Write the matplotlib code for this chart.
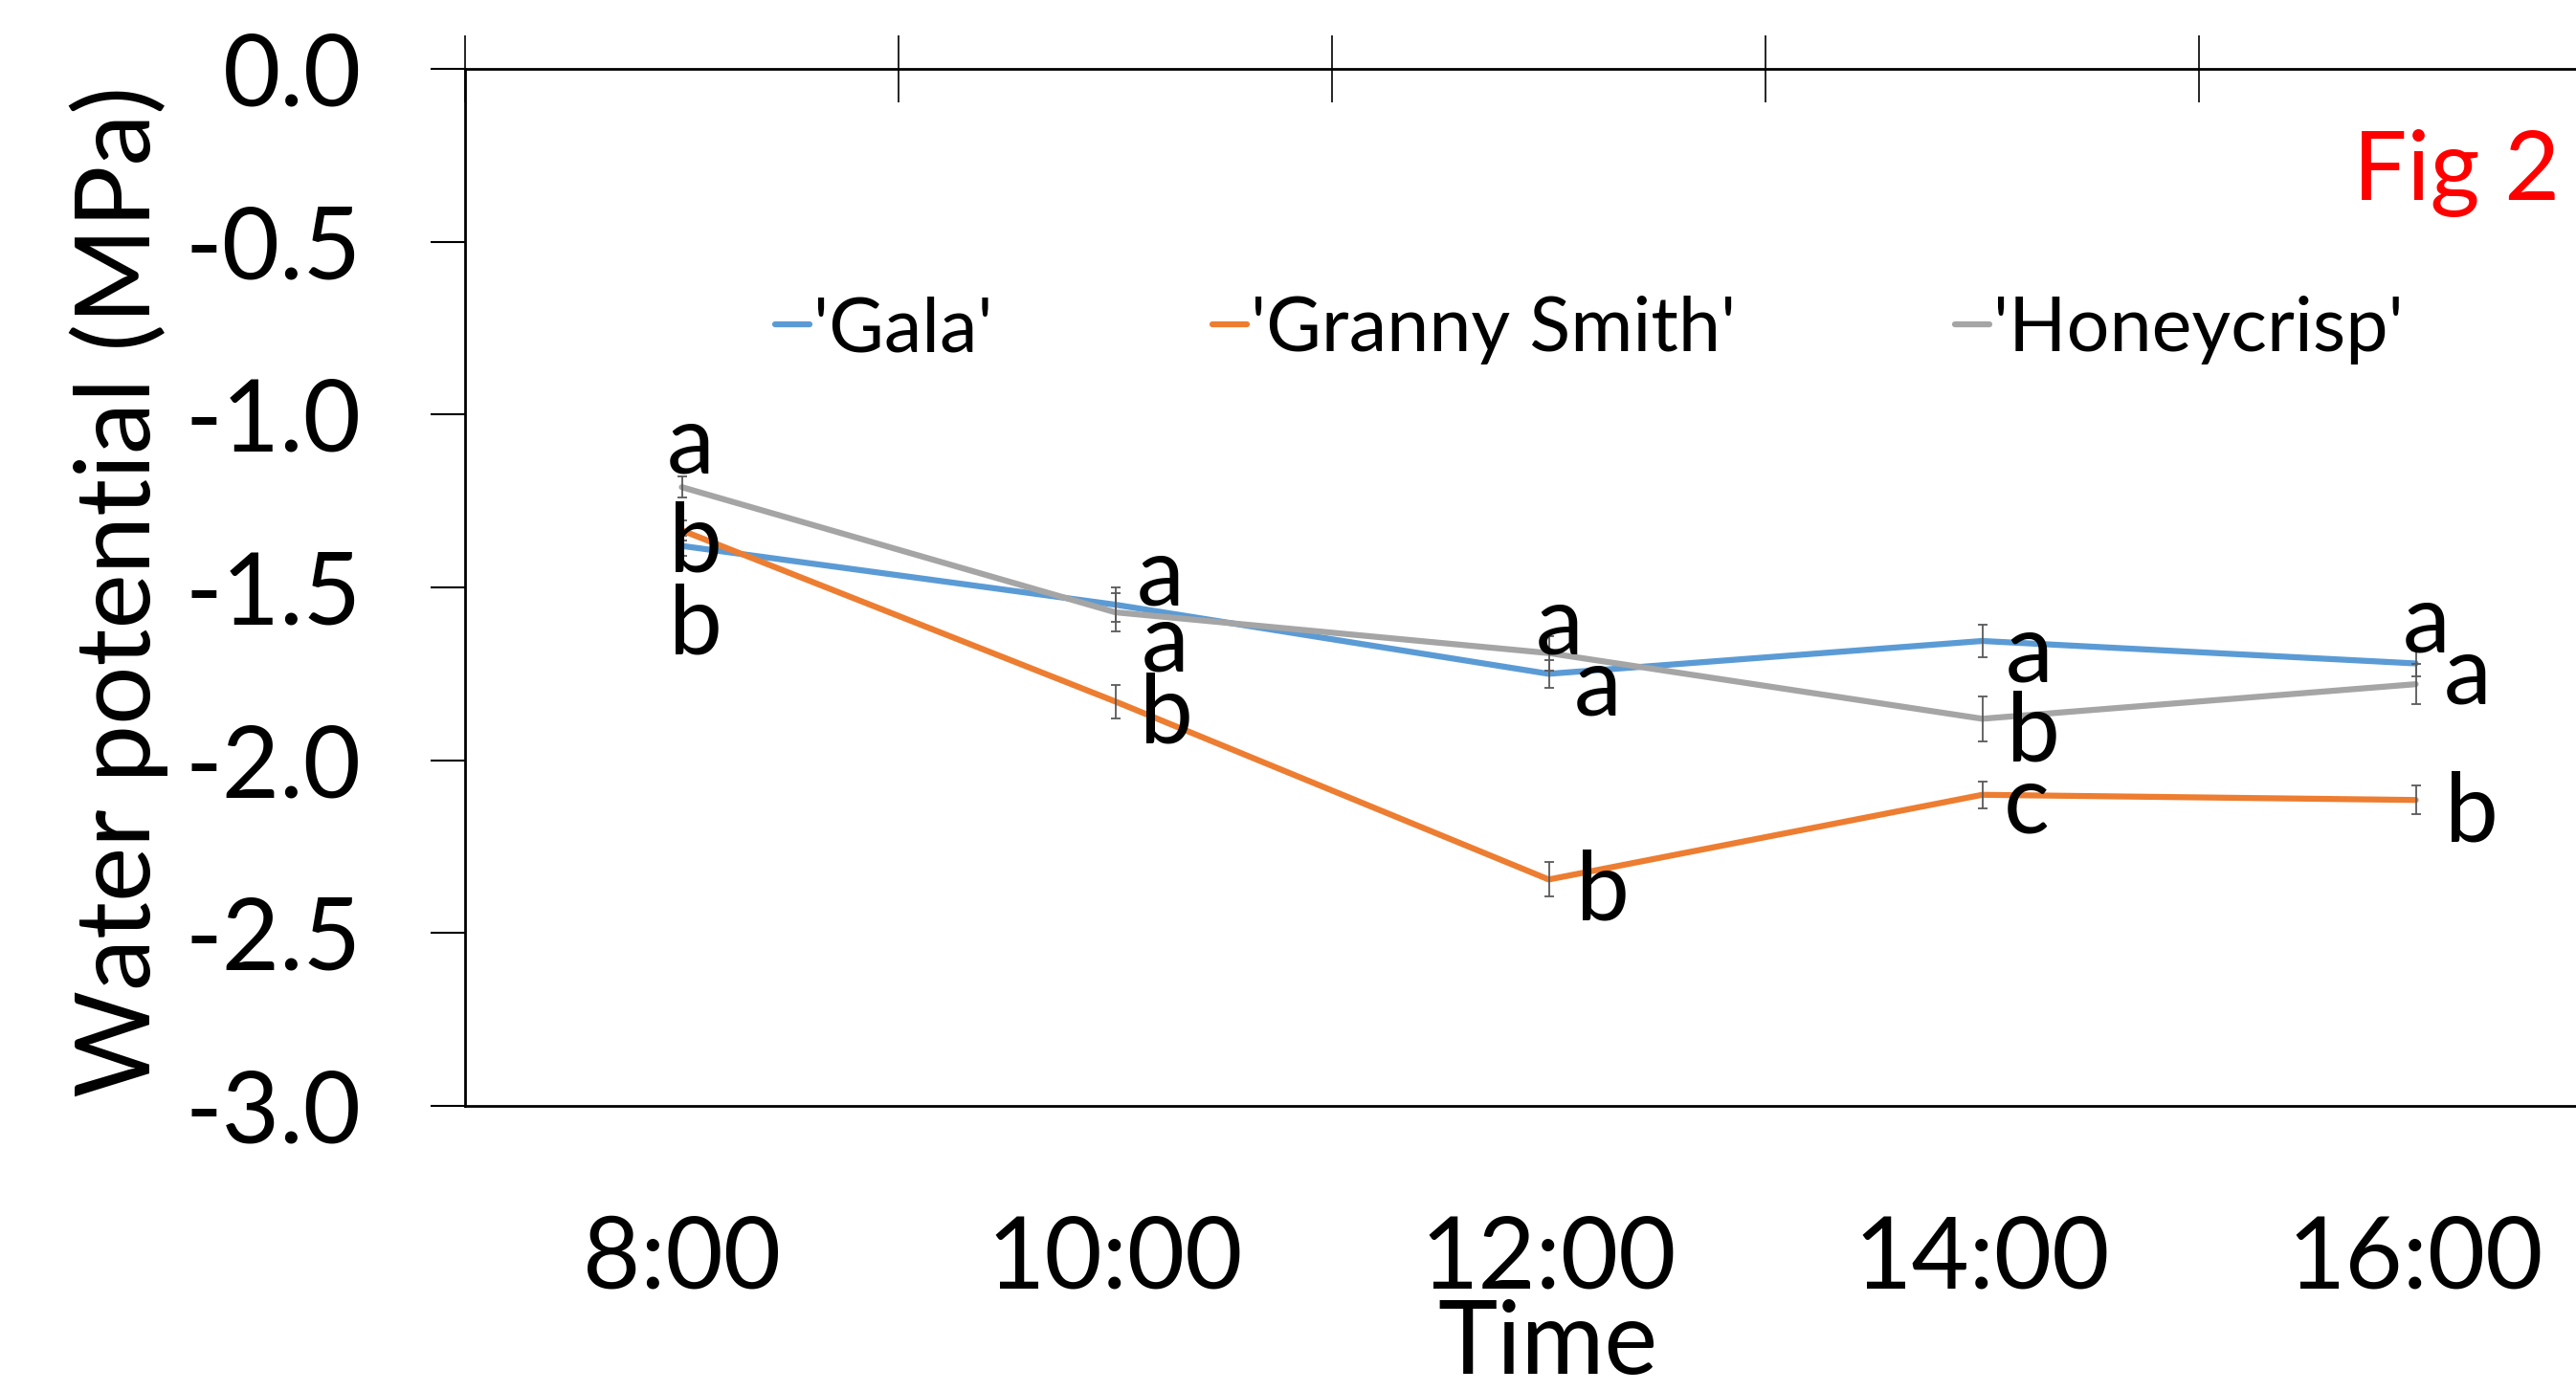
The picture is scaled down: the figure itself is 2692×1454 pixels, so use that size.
import numpy as np
import matplotlib.pyplot as plt

plt.rcParams['font.family'] = ['Lato', 'DejaVu Sans']

times = ['8:00', '10:00', '12:00', '14:00', '16:00']
cultivars = ["'Gala'", "'Granny Smith'", "'Honeycrisp'"]
colors = ['#5B9BD5', '#ED7D31', '#A5A5A5']

gala = [-1.38, -1.55, -1.75, -1.655, -1.72]
granny = [-1.335, -1.83, -2.345, -2.10, -2.115]
honey = [-1.21, -1.572, -1.69, -1.88, -1.78]

gala_err = [0.03, 0.05, 0.04, 0.047, 0.037]
granny_err = [0.03, 0.048, 0.05, 0.038, 0.042]
honey_err = [0.03, 0.055, 0.05, 0.065, 0.058]

# significance letters (text, x in category units, y baseline in MPa)
letters = ['a', 'b', 'b', 'a', 'a', 'b', 'a', 'a', 'b', 'a', 'b', 'c', 'a', 'a', 'b']
letter_x = [-0.034, -0.03, -0.03, 1.049, 1.061, 1.057, 1.97, 2.057, 2.064,
            3.053, 3.057, 3.049, 3.97, 4.064, 4.068]
letter_y = [-1.17, -1.455, -1.693, -1.55, -1.741, -1.95, -1.693, -1.869, -2.463,
            -1.773, -2.002, -2.211, -1.688, -1.835, -2.235]

W, H = 2692, 1454
fig = plt.figure(figsize=(W / 100, H / 100), dpi=100)
ax = fig.add_axes([486 / W, 298 / H, 2265 / W, 1084 / H])

x = np.arange(len(times))
for vals, errs, c, lab in zip([gala, granny, honey], [gala_err, granny_err, honey_err],
                              colors, cultivars):
    ax.plot(x, vals, color=c, lw=4.5, label=lab, solid_capstyle='round')
    ax.errorbar(x, vals, yerr=errs, fmt='none', ecolor='#595959', elinewidth=1.3,
                capsize=3.5, capthick=1.3)

for t, lx, ly in zip(letters, letter_x, letter_y):
    ax.text(lx, ly, t, fontsize=72, ha='left', va='baseline')

ax.set_xlim(-0.5, 4.5)
ax.set_ylim(-3.0, 0.0)
ax.set_yticks(np.arange(-3.0, 0.01, 0.5))
ax.set_yticklabels(['%.1f' % v for v in np.arange(-3.0, 0.01, 0.5)])
ax.set_xticks(x)
ax.set_xticklabels(times)
ax.set_xticks(np.arange(-0.5, 5.0, 1.0), minor=True)

ax.tick_params(axis='y', direction='out', length=26, width=1.5, labelsize=75, pad=52)
ax.tick_params(axis='x', which='major', bottom=True, top=False, length=0,
               labelsize=75, pad=82)
ax.tick_params(axis='x', which='minor', bottom=False, top=True, direction='inout',
               length=50, width=1.2)

for s in ['left', 'top', 'bottom']:
    ax.spines[s].set_linewidth(2)
ax.spines['right'].set_visible(False)

fig.text(124 / W, 1 - 618 / H, 'Water potential (MPa)', rotation=90, fontsize=78,
         ha='center', va='center')
fig.text(1617 / W, 1 - 1406 / H, 'Time', fontsize=76, ha='center', va='center')
fig.text(2675 / W, 1 - 209 / H, 'Fig 2', fontsize=72, color='red', ha='right',
         va='baseline')

ax.legend(loc='center', bbox_to_anchor=(1661 / W, 1 - 345 / H),
          bbox_transform=fig.transFigure, ncol=3, frameon=False, fontsize=57,
          handlelength=0.45, handletextpad=0.05, columnspacing=2.9)

fig.savefig('out.png', dpi=100)
